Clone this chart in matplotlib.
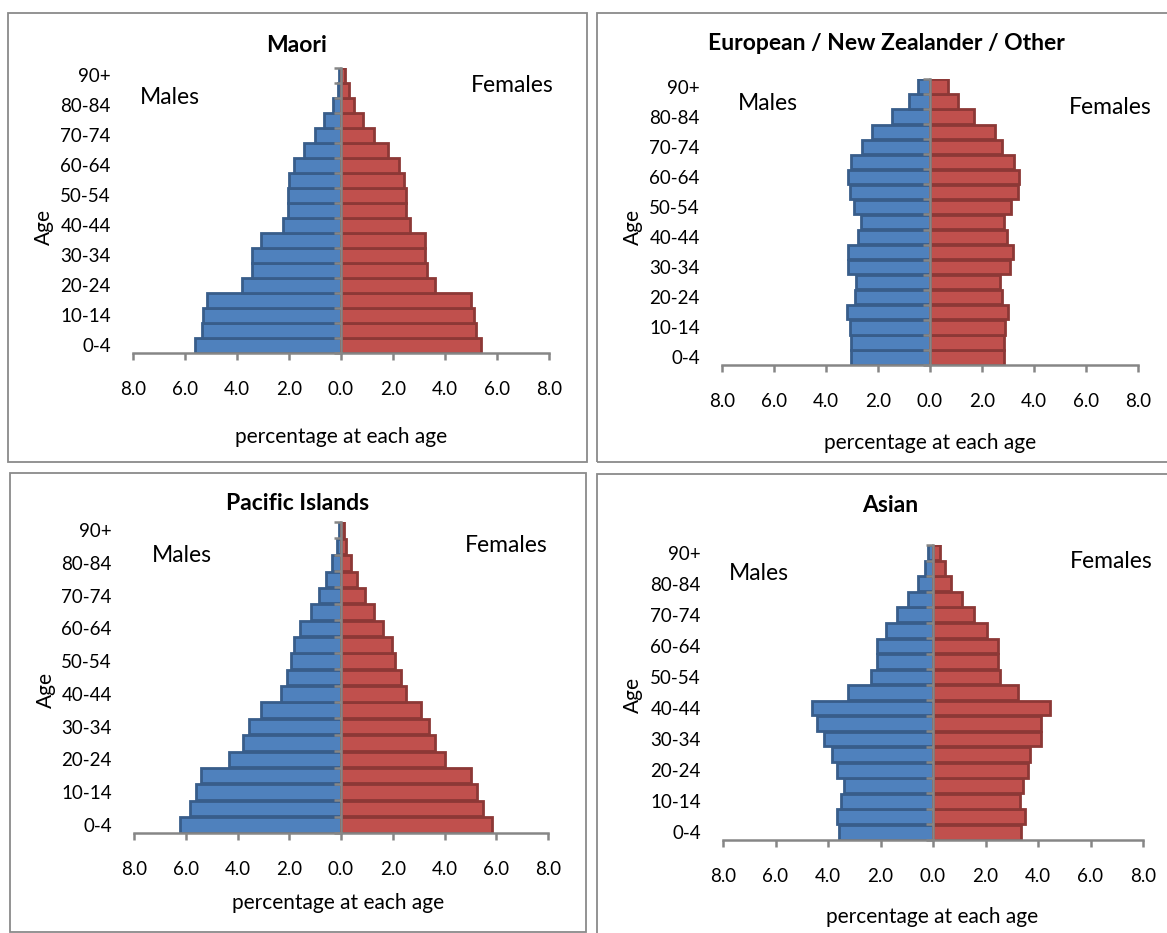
import numpy as np
import matplotlib
matplotlib.use("Agg")
import matplotlib.pyplot as plt
from matplotlib.patches import Rectangle
from matplotlib.ticker import FuncFormatter, NullFormatter

plt.rcParams['font.family'] = ['Lato', 'DejaVu Sans']

ages = ['0-4', '5-9', '10-14', '15-19', '20-24', '25-29', '30-34', '35-39',
        '40-44', '45-49', '50-54', '55-59', '60-64', '65-69', '70-74',
        '75-79', '80-84', '85-89', '90+']

maori_m = [5.61, 5.36, 5.30, 5.17, 3.80, 3.44, 3.44, 3.08, 2.24, 2.05, 2.05, 1.99, 1.79, 1.43, 1.01, 0.65, 0.30, 0.12, 0.06]
maori_f = [5.38, 5.19, 5.12, 4.99, 3.61, 3.31, 3.24, 3.24, 2.66, 2.49, 2.49, 2.41, 2.23, 1.81, 1.26, 0.85, 0.49, 0.32, 0.14]

euro_m = [3.02, 3.02, 3.09, 3.21, 2.88, 2.84, 3.14, 3.14, 2.77, 2.67, 2.91, 3.09, 3.16, 3.02, 2.60, 2.25, 1.47, 0.79, 0.45]
euro_f = [2.84, 2.84, 2.88, 3.01, 2.77, 2.70, 3.08, 3.19, 2.95, 2.84, 3.12, 3.38, 3.43, 3.23, 2.77, 2.49, 1.68, 1.07, 0.68]

pac_m = [6.22, 5.84, 5.62, 5.40, 4.32, 3.77, 3.55, 3.11, 2.31, 2.07, 1.94, 1.82, 1.58, 1.17, 0.85, 0.58, 0.34, 0.15, 0.08]
pac_f = [5.84, 5.47, 5.24, 5.04, 4.03, 3.65, 3.42, 3.09, 2.51, 2.32, 2.07, 1.96, 1.64, 1.27, 0.91, 0.61, 0.39, 0.20, 0.10]

asian_m = [3.57, 3.67, 3.50, 3.39, 3.67, 3.85, 4.17, 4.41, 4.62, 3.25, 2.38, 2.13, 2.13, 1.78, 1.37, 0.94, 0.56, 0.32, 0.18]
asian_f = [3.36, 3.50, 3.32, 3.43, 3.60, 3.71, 4.13, 4.13, 4.44, 3.25, 2.55, 2.48, 2.48, 2.06, 1.58, 1.12, 0.70, 0.46, 0.28]

titles = ['Maori', 'European / New Zealander / Other', 'Pacific Islands', 'Asian']
x_ticks = [-8, -6, -4, -2, 0, 2, 4, 6, 8]

W, H = 1167, 933
fig = plt.figure(figsize=(W / 100, H / 100), dpi=100)
fig.patch.set_facecolor('white')

def fx(x):
    return x / W

def fy(y):
    return 1 - y / H

BLUE, BLUE_E = '#4F81BD', '#385D8A'
RED, RED_E = '#C0504D', '#8C3836'
GRAY = '#868686'

panels = [
    dict(ax=(133, 549, 68, 353), box=(8, 13, 587, 462), title=(297, 46),
         males=(170, 97), females=(512, 86), age=(44, 227), xlab=(341, 437),
         m=maori_m, f=maori_f),
    dict(ax=(722, 1138, 79, 365), box=(597, 13, 1180, 462), title=(886, 44),
         males=(768, 104), females=(1110, 108), age=(633, 227), xlab=(930, 443),
         m=euro_m, f=euro_f),
    dict(ax=(134, 548, 522, 833), box=(10, 473, 586, 932), title=(298, 503),
         males=(182, 555), females=(506, 545), age=(46, 690), xlab=(338, 903),
         m=pac_m, f=pac_f),
    dict(ax=(723, 1143, 545, 840), box=(597, 474, 1180, 945), title=(890, 506),
         males=(759, 573), females=(1111, 561), age=(633, 695), xlab=(932, 917),
         m=asian_m, f=asian_f),
]

y = np.arange(len(ages))
bounds = np.arange(len(ages) + 1) - 0.5

for p, title in zip(panels, titles):
    l, r, t, b = p['ax']
    ax = fig.add_axes([fx(l), fy(b), fx(r - l), (b - t) / H])
    ax.barh(y, -np.array(p['m']), height=0.95, color=BLUE, edgecolor=BLUE_E,
            linewidth=2.0, zorder=2)
    ax.barh(y, np.array(p['f']), height=0.95, color=RED, edgecolor=RED_E,
            linewidth=2.0, zorder=2)
    ax.set_xlim(-8, 8)
    ax.set_ylim(-0.5, len(ages) - 0.5)

    ax.set_xticks(x_ticks)
    ax.xaxis.set_major_formatter(FuncFormatter(lambda v, pos: f'{abs(v):.1f}'))
    ax.tick_params(axis='x', direction='out', length=5, width=1.8, color=GRAY,
                   labelsize=13.5, pad=15)
    ax.set_yticks(y[::2])
    ax.set_yticklabels(ages[::2])
    ax.tick_params(axis='y', length=0, labelsize=13.5, pad=16)

    for s in ['top', 'right', 'left']:
        ax.spines[s].set_visible(False)
    ax.spines['bottom'].set_color(GRAY)
    ax.spines['bottom'].set_linewidth(1.8)
    ax.spines['bottom'].set_zorder(4)

    # central age axis with boundary ticks pointing left
    sec = ax.secondary_yaxis(0.5)
    sec.set_alignment('left')
    sec.set_yticks(bounds)
    sec.yaxis.set_major_formatter(NullFormatter())
    sec.tick_params(axis='y', which='both', direction='out', length=5, width=1.8,
                    color=GRAY, left=True, right=False,
                    labelleft=False, labelright=False)
    sec.tick_params(axis='y', which='minor', length=0)
    sec.spines['left'].set_color(GRAY)
    sec.spines['left'].set_linewidth(1.8)
    sec.set_zorder(5)

    ax.set_xlabel('percentage at each age', fontsize=15, va='center')
    ax.xaxis.set_label_coords(fx(p['xlab'][0]), fy(p['xlab'][1]), transform=fig.transFigure)
    ax.set_ylabel('Age', fontsize=15, va='center')
    ax.yaxis.set_label_coords(fx(p['age'][0]), fy(p['age'][1]), transform=fig.transFigure)

    fig.text(fx(p['title'][0]), fy(p['title'][1]), title, fontsize=16.5,
             fontweight='bold', ha='center', va='center')
    fig.text(fx(p['males'][0]), fy(p['males'][1]), 'Males', fontsize=16.5,
             ha='center', va='center')
    fig.text(fx(p['females'][0]), fy(p['females'][1]), 'Females', fontsize=16.5,
             ha='center', va='center')

    bx0, by0, bx1, by1 = p['box']
    fig.add_artist(Rectangle((fx(bx0), fy(by1)), fx(bx1 - bx0), (by1 - by0) / H,
                             transform=fig.transFigure, fill=False,
                             edgecolor='#8a8a8a', linewidth=1.3))

fig.savefig('out.png', dpi=100)
